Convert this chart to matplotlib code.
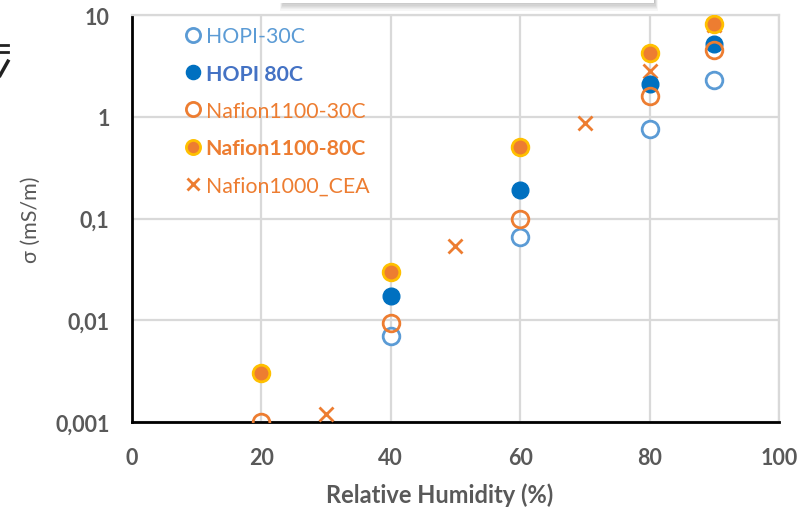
import matplotlib
matplotlib.use("Agg")
import matplotlib.pyplot as plt
from matplotlib.patches import Rectangle
from matplotlib.lines import Line2D

plt.rcParams['font.family'] = ['Lato', 'DejaVu Sans']

# conductivity data (mS/m) vs relative humidity (%)
rh_hopi = [40, 60, 80, 90]
hopi_30c = [0.0070, 0.066, 0.76, 2.3]
hopi_80c = [0.0173, 0.19, 2.1, 5.2]

rh_nafion = [20, 40, 60, 80, 90]
nafion_30c = [0.001, 0.0094, 0.099, 1.6, 4.5]
nafion_80c = [0.003, 0.030, 0.51, 4.25, 8.2]

rh_cea = [30, 50, 70, 80, 90]
nafion_cea = [0.0012, 0.054, 0.87, 2.8, 8.0]

x_ticks = [0, 20, 40, 60, 80, 100]
y_ticks = [0.001, 0.01, 0.1, 1, 10]
y_ticklabels = ["0,001", "0,01", "0,1", "1", "10"]

BLUE_LIGHT = "#5B9BD5"
BLUE = "#0070C0"
ORANGE = "#ED7D31"
GOLD = "#FFC000"
GRAY = "#595959"
GRID = "#D9D9D9"

fig = plt.figure(figsize=(7.99, 5.10), dpi=100)
ax = fig.add_axes([0.165, 0.1706, 0.810, 0.798])

ms = 12
ax.plot(rh_cea, nafion_cea, ls="none", marker="x", ms=10, mew=2,
        color=ORANGE, label="Nafion1000_CEA", zorder=3)
ax.plot(rh_hopi, hopi_30c, ls="none", marker="o", ms=ms, mew=2,
        mfc="white", mec=BLUE_LIGHT, label="HOPI-30C", zorder=3)
ax.plot(rh_hopi, hopi_80c, ls="none", marker="o", ms=ms, mew=1,
        mfc=BLUE, mec=BLUE, label="HOPI 80C", zorder=4)
ax.plot(rh_nafion, nafion_30c, ls="none", marker="o", ms=ms, mew=2,
        mfc="none", mec=ORANGE, label="Nafion1100-30C", zorder=5)
ax.plot(rh_nafion, nafion_80c, ls="none", marker="o", ms=ms, mew=2,
        mfc=ORANGE, mec=GOLD, label="Nafion1100-80C", zorder=6)

ax.set_yscale("log")
ax.set_xlim(0, 100)
ax.set_ylim(0.001, 10)
ax.set_xticks(x_ticks)
ax.set_yticks(y_ticks)
ax.set_yticklabels(y_ticklabels)
ax.minorticks_off()
ax.tick_params(length=0, labelsize=15.5, colors=GRAY)
ax.tick_params(axis="x", pad=18)
ax.tick_params(axis="y", pad=16)
for lab in ax.get_xticklabels() + ax.get_yticklabels():
    lab.set_fontweight("bold")

ax.grid(True, color=GRID, lw=1.6)
ax.set_axisbelow(True)
for side in ("top", "right"):
    ax.spines[side].set_color(GRID)
    ax.spines[side].set_linewidth(1.6)
for side in ("left", "bottom"):
    ax.spines[side].set_color("black")
    ax.spines[side].set_linewidth(2)
    ax.spines[side].set_zorder(2.5)

ax.set_xlabel("Relative Humidity (%)", fontsize=17, fontweight="bold",
              color=GRAY)
ax.xaxis.set_label_coords(0.476, -0.148)
ax.set_ylabel("σ (mS/m)", fontsize=15.5, color=GRAY, labelpad=10)

# legend in the upper left of the plot area
handles, labels = ax.get_legend_handles_labels()
order = [1, 2, 3, 4, 0]
leg = ax.legend([handles[i] for i in order], [labels[i] for i in order],
                loc="upper left", bbox_to_anchor=(0.068, 0.993), frameon=False,
                borderaxespad=0, fontsize=15.3, handlelength=0.8,
                handletextpad=0.2, labelspacing=0.81, markerscale=0.85)
text_colors = [BLUE_LIGHT, "#4472C4", ORANGE, ORANGE, ORANGE]
bold = [False, True, False, True, False]
for txt, c, b in zip(leg.get_texts(), text_colors, bold):
    txt.set_color(c)
    if b:
        txt.set_fontweight("bold")

# clipped title box above the plot, with a soft shadow
for i in range(8):
    fig.patches.append(Rectangle((0.351 + i * 0.0006, 0.977 + i * 0.0025),
                                 0.472 - i * 0.0012, 0.03, transform=fig.transFigure,
                                 facecolor="black", alpha=0.035, edgecolor="none"))
fig.patches.append(Rectangle((0.35, 0.992), 0.468, 0.03, transform=fig.transFigure,
                             facecolor="white", edgecolor="none"))

# cut-off glyph at the left edge
fig.lines.append(Line2D([0, 0.010], [0.910, 0.910], transform=fig.transFigure,
                        color="#222222", lw=2))
fig.lines.append(Line2D([0, 0.010], [0.896, 0.896], transform=fig.transFigure,
                        color="#222222", lw=2))
fig.lines.append(Line2D([0, 0.010], [0.850, 0.878], transform=fig.transFigure,
                        color="#222222", lw=2.5))

fig.savefig("out.png", dpi=100)
